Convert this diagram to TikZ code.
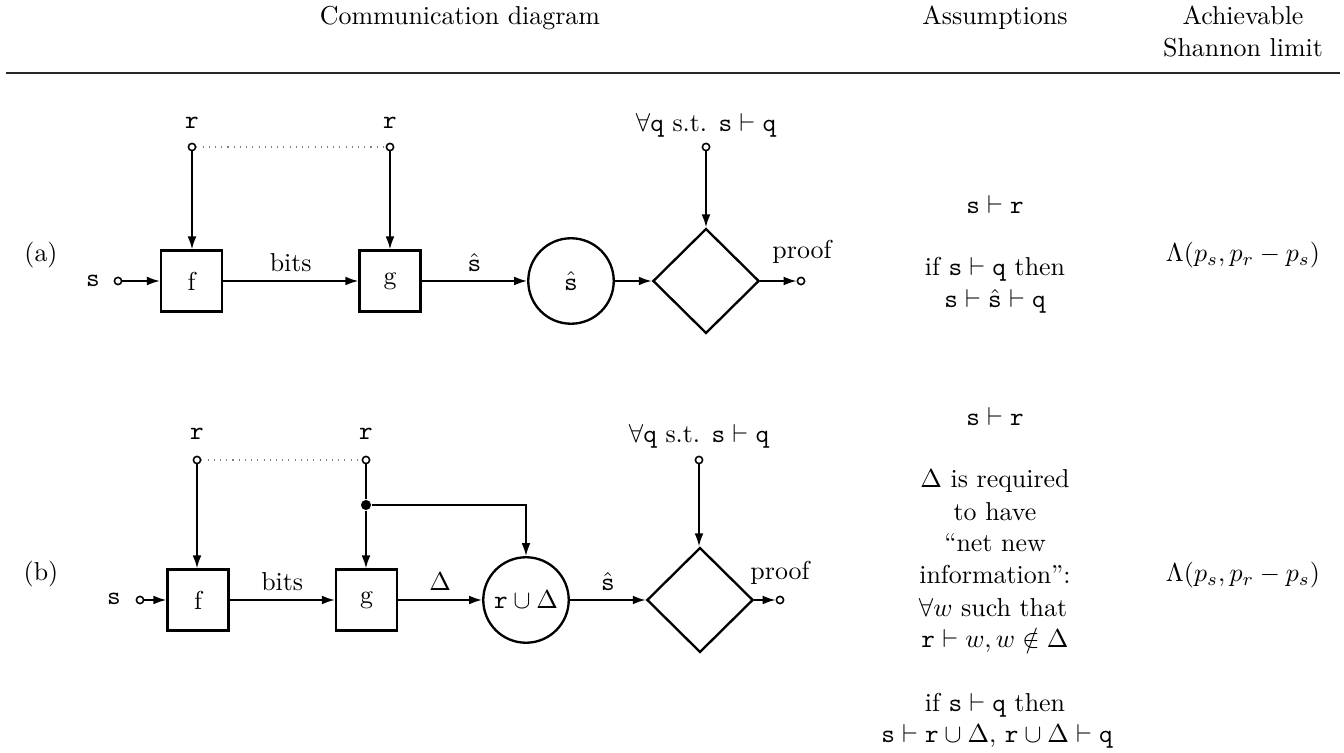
\documentclass[tikz,border=0pt]{standalone}
\usetikzlibrary{arrows.meta,shapes.geometric}
\begin{document}
\begin{tikzpicture}[x=0.386pt,y=-0.386pt,
  box/.style={draw, line width=0.9pt, minimum size=23.5pt, inner sep=0},
  circ/.style={draw, circle, line width=0.9pt, minimum size=33pt, inner sep=0},
  dia/.style={draw, diamond, line width=0.9pt, minimum width=41pt, minimum height=40.5pt, inner sep=0, line join=miter},
  port/.style={draw, circle, line width=0.6pt, minimum size=2.8pt, inner sep=0, fill=white},
  jdot/.style={circle, fill, minimum size=3.9pt, inner sep=0},
  arr/.style={-{Latex[length=5pt,width=3.4pt]}, line width=0.7pt},
  ln/.style={line width=0.7pt},
  dots/.style={dotted, line width=0.4pt, gray},
  txt/.style={inner sep=0, anchor=base},
  lbl/.style={midway, above}]
\useasboundingbox (0,0) rectangle (1344,753);

% header
\node[txt] (h1) at (460,25) {Communication diagram};
\node[txt] (h2) at (995,25) {Assumptions};
\node[txt] (h3) at (1243,25) {Achievable};
\node[txt] (h4) at (1243,57) {Shannon limit};
\coordinate (rl) at (6,73);
\coordinate (rr) at (1340,73);
\draw[line width=0.8pt, black!85] (rl) -- (rr);

% ---------------- row (a)
\node[txt] (la) at (41,262) {(a)};
\node[box] (fa) at (191.5,281) {f};
\node[box] (ga) at (390,281) {g};
\node[circ] (ca) at (571,281) {$\hat{\texttt{s}}$};
\node[dia] (da) at (706,281) {};
\node[port] (sa) at (118,281) {};
\node[port] (ra1) at (192,147) {};
\node[port] (ra2) at (390,147) {};
\node[port] (qa) at (706,147) {};
\node[port] (pa) at (801,281) {};
\node[txt] (sla) at (93,287) {\texttt{s}};
\node[txt] (rla1) at (192,129) {\texttt{r}};
\node[txt] (rla2) at (390,129) {\texttt{r}};
\node[txt] (qla) at (706,132) {$\forall\texttt{q}$ s.t. $\texttt{s}\vdash\texttt{q}$};
\node[txt] (pla) at (802,259) {proof};

\draw[dots] (ra1) -- (ra2);
\draw[arr] (ra1) -- (ra1 |- fa.north);
\draw[arr] (ra2) -- (ra2 |- ga.north);
\draw[arr] (qa) -- (qa |- da.north);
\draw[arr] (sa) -- (fa);
\draw[arr] (fa) -- node[lbl] {bits} (ga);
\draw[arr] (ga) -- node[lbl] {$\hat{\texttt{s}}$} (ca);
\draw[arr] (ca) -- (da);
\draw[arr] (da) -- (pa);

\node[txt] (aa1) at (995,214) {$\texttt{s}\vdash\texttt{r}$};
\node[txt] (aa2) at (995,276) {if $\texttt{s}\vdash\texttt{q}$ then};
\node[txt] (aa3) at (995,308) {$\texttt{s}\vdash\hat{\texttt{s}}\vdash\texttt{q}$};
\node[txt] (lama) at (1243,262) {$\Lambda(p_s, p_r - p_s)$};

% ---------------- row (b)
\node[txt] (lb) at (41,581) {(b)};
\node[box] (fb) at (198,600) {f};
\node[box] (gb) at (366.5,600) {g};
\node[circ] (cb) at (526,600) {$\texttt{r}\cup\Delta$};
\node[dia] (db) at (700,600) {};
\node[port] (sb) at (140,600) {};
\node[port] (rb1) at (197,460) {};
\node[port] (rb2) at (366,460) {};
\node[port] (qb) at (699,460) {};
\node[port] (pb) at (780,600) {};
\node[jdot] (jb) at (366,505) {};
\node[txt] (slb) at (114,605) {\texttt{s}};
\node[txt] (rlb1) at (197,440) {\texttt{r}};
\node[txt] (rlb2) at (366,440) {\texttt{r}};
\node[txt] (qlb) at (699,443) {$\forall\texttt{q}$ s.t. $\texttt{s}\vdash\texttt{q}$};
\node[txt] (plb) at (780,580) {proof};

\draw[dots] (rb1) -- (rb2);
\draw[arr] (rb1) -- (rb1 |- fb.north);
\draw[ln] (rb2) -- (jb);
\draw[arr] (jb) -- (jb |- gb.north);
\draw[arr] (jb) -| (cb);
\draw[arr] (qb) -- (qb |- db.north);
\draw[arr] (sb) -- (fb);
\draw[arr] (fb) -- node[lbl] {bits} (gb);
\draw[arr] (gb) -- node[lbl] {$\Delta$} (cb);
\draw[arr] (cb) -- node[lbl] {$\hat{\texttt{s}}$} (db);
\draw[arr] (db) -- (pb);

\node[txt] (ab1) at (995,426) {$\texttt{s}\vdash\texttt{r}$};
\node[txt] (ab2) at (995,488) {$\Delta$ is required};
\node[txt] (ab3) at (995,521) {to have};
\node[txt] (ab4) at (995,552) {``net new};
\node[txt] (ab5) at (995,584) {information'':};
\node[txt] (ab6) at (993,617) {$\forall w$ such that};
\node[txt] (ab7) at (995,648) {$\texttt{r}\vdash w, w\notin\Delta$};
\node[txt] (ab8) at (995,712) {if $\texttt{s}\vdash\texttt{q}$ then};
\node[txt] (ab9) at (997,743) {$\texttt{s}\vdash\texttt{r}\cup\Delta$, $\texttt{r}\cup\Delta\vdash\texttt{q}$};
\node[txt] (lamb) at (1243,582) {$\Lambda(p_s, p_r - p_s)$};
\end{tikzpicture}
\end{document}
